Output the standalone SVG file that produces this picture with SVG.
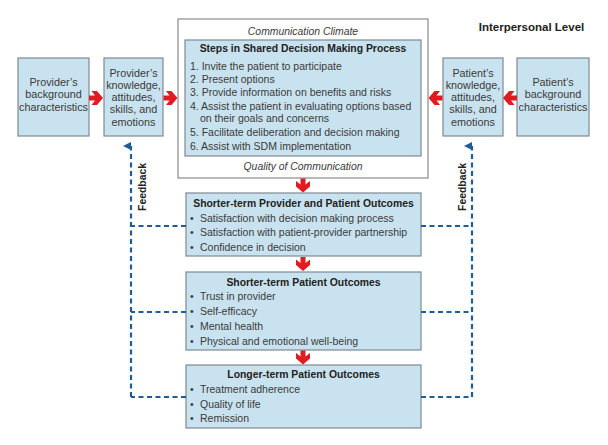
<svg xmlns="http://www.w3.org/2000/svg" width="608" height="445" viewBox="0 0 608 445">
<style>
text{font-family:"Liberation Sans",Arial,sans-serif;fill:#3a3a3a}
.box{fill:#c9e2ef;stroke:#7d8a93;stroke-width:1.2}
.t{font-size:10.8px;text-anchor:middle}
.li{font-size:10.5px}
.h{font-size:10.4px;font-weight:bold;text-anchor:middle;fill:#222}
.it{font-size:10.4px;font-style:italic;text-anchor:middle}
.fb{fill:none;stroke:#1f5d96;stroke-width:2.2;stroke-dasharray:5 3.5}
.ra{fill:#e01b22}
</style>
<defs>
<marker id="ah" viewBox="0 0 10 10" refX="5" refY="10" markerWidth="8" markerHeight="9" markerUnits="userSpaceOnUse" orient="auto-start-reverse">
<path d="M0,10 L5,0 L10,10 Z" fill="#1f5d96"/>
</marker>
<path id="arr" d="M-7,-2.5 H-1 L-4.5,-7 H1 L7,0 L1,7 H-4.5 L-1,2.5 H-7 Z"/>
</defs>
<rect width="608" height="445" fill="#fff"/>
<text x="531.5" y="31" style="font-size:11.5px;font-weight:bold;text-anchor:middle;fill:#222">Interpersonal Level</text>

<g id="provider-background">
<rect class="box" x="18" y="58" width="71" height="78"/>
<text class="t" x="53.5" y="85.5">Provider’s</text>
<text class="t" x="53.5" y="98">background</text>
<text class="t" x="53.5" y="110.5">characteristics</text>
</g>
<g id="provider-knowledge">
<rect class="box" x="104" y="58" width="59" height="78"/>
<text class="t" x="133.5" y="76.5">Provider’s</text>
<text class="t" x="133.5" y="88.8">knowledge,</text>
<text class="t" x="133.5" y="101.1">attitudes,</text>
<text class="t" x="133.5" y="113.4">skills, and</text>
<text class="t" x="133.5" y="125.7">emotions</text>
</g>
<g id="patient-knowledge">
<rect class="box" x="443" y="58" width="60" height="78"/>
<text class="t" x="473" y="76.5">Patient’s</text>
<text class="t" x="473" y="88.8">knowledge,</text>
<text class="t" x="473" y="101.1">attitudes,</text>
<text class="t" x="473" y="113.4">skills, and</text>
<text class="t" x="473" y="125.7">emotions</text>
</g>
<g id="patient-background">
<rect class="box" x="517" y="58" width="72" height="78"/>
<text class="t" x="553" y="85.5">Patient’s</text>
<text class="t" x="553" y="98">background</text>
<text class="t" x="553" y="110.5">characteristics</text>
</g>

<g id="communication-climate">
<rect x="178" y="19" width="250" height="159" fill="#fff" stroke="#8a8a8a" stroke-width="1.2"/>
<text class="it" x="303" y="34.5">Communication Climate</text>
<text class="it" x="303" y="169.5">Quality of Communication</text>
</g>
<g id="sdm-steps">
<rect class="box" x="185" y="40" width="236" height="116"/>
<text class="h" x="303" y="51.5">Steps in Shared Decision Making Process</text>
<text class="li" x="190" y="69.5">1. Invite the patient to participate</text>
<text class="li" x="190" y="82.5">2. Present options</text>
<text class="li" x="190" y="96">3. Provide information on benefits and risks</text>
<text class="li" x="190" y="109.5">4. Assist the patient in evaluating options  based</text>
<text class="li" x="200" y="122">on their goals and concerns</text>
<text class="li" x="190" y="136">5. Facilitate deliberation and decision making</text>
<text class="li" x="190" y="149.5">6. Assist with SDM implementation</text>
</g>

<g id="shorter-term-provider-patient">
<rect class="box" x="186" y="193" width="235" height="63"/>
<text class="h" x="303.5" y="206.5">Shorter-term Provider and Patient Outcomes</text>
<text class="li" x="190" y="221.5">•</text><text class="li" x="200" y="221.5">Satisfaction with decision making process</text>
<text class="li" x="190" y="235.5">•</text><text class="li" x="200" y="235.5">Satisfaction with patient-provider partnership</text>
<text class="li" x="190" y="250.5">•</text><text class="li" x="200" y="250.5">Confidence in decision</text>
</g>
<g id="shorter-term-patient">
<rect class="box" x="186" y="272" width="235" height="78"/>
<text class="h" x="303.5" y="285.5">Shorter-term Patient Outcomes</text>
<text class="li" x="190" y="299.5">•</text><text class="li" x="200" y="299.5">Trust in provider</text>
<text class="li" x="190" y="314.5">•</text><text class="li" x="200" y="314.5">Self-efficacy</text>
<text class="li" x="190" y="329.5">•</text><text class="li" x="200" y="329.5">Mental health</text>
<text class="li" x="190" y="344.5">•</text><text class="li" x="200" y="344.5">Physical and emotional well-being</text>
</g>
<g id="longer-term-patient">
<rect class="box" x="186" y="365" width="235" height="63"/>
<text class="h" x="303.5" y="377.5">Longer-term Patient Outcomes</text>
<text class="li" x="190" y="392.5">•</text><text class="li" x="200" y="392.5">Treatment adherence</text>
<text class="li" x="190" y="407.5">•</text><text class="li" x="200" y="407.5">Quality of life</text>
<text class="li" x="190" y="421.5">•</text><text class="li" x="200" y="421.5">Remission</text>
</g>

<g id="connectors">
<use href="#arr" class="ra" transform="translate(96,98)"/>
<use href="#arr" class="ra" transform="translate(170.5,98)"/>
<use href="#arr" class="ra" transform="translate(510,98) rotate(180)"/>
<use href="#arr" class="ra" transform="translate(435.5,98) rotate(180)"/>
<use href="#arr" class="ra" transform="translate(303,185.5) rotate(90)"/>
<use href="#arr" class="ra" transform="translate(303,264) rotate(90)"/>
<use href="#arr" class="ra" transform="translate(303,357.5) rotate(90)"/>
<path class="fb" d="M131,397 V146" marker-end="url(#ah)"/>
<path class="fb" d="M186,226 H131 M186,312 H131 M186,397 H131"/>
<path class="fb" d="M472,397 V146" marker-end="url(#ah)"/>
<path class="fb" d="M421,226 H472 M421,312 H472 M421,397 H472"/>
<text transform="translate(146,187) rotate(-90)" style="font-size:10.4px;font-weight:bold;text-anchor:middle;fill:#222">Feedback</text>
<text transform="translate(466,187) rotate(-90)" style="font-size:10.4px;font-weight:bold;text-anchor:middle;fill:#222">Feedback</text>
</g>
</svg>
